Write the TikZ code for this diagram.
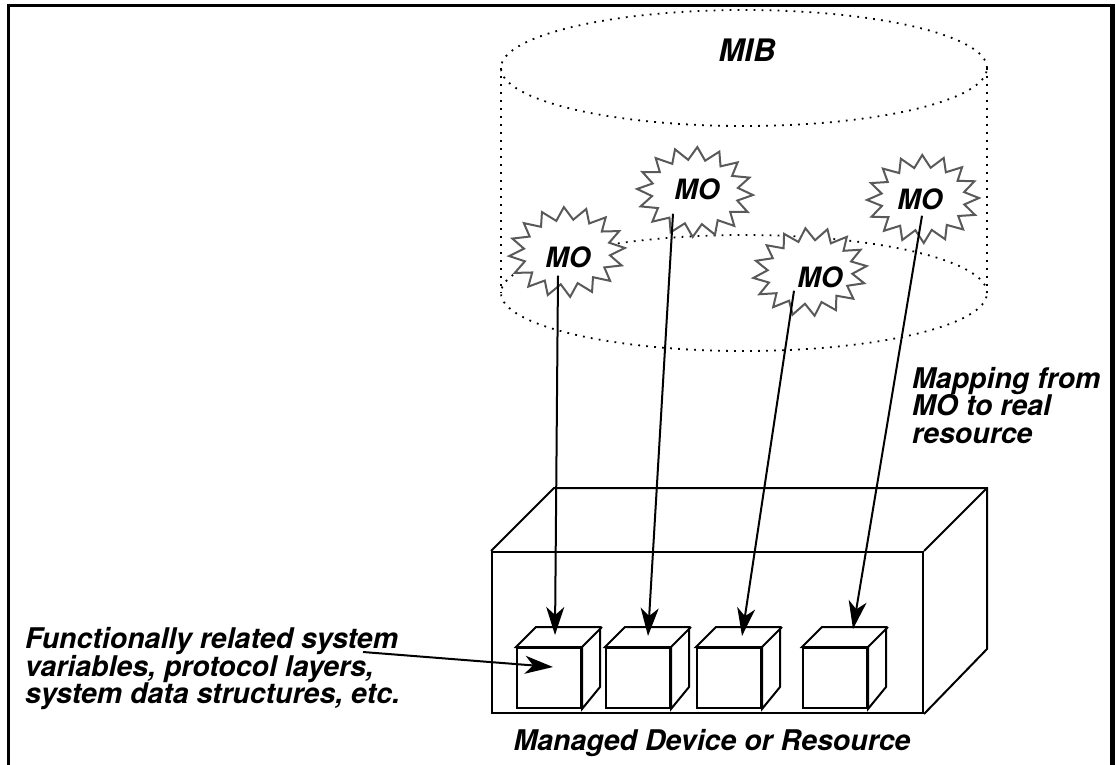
\documentclass[tikz,border=0pt]{standalone}
\usepackage{fontspec}
\setmainfont{TeX Gyre Heros}
\usetikzlibrary{arrows.meta}

% draws a sixteen-point starburst of outer radii #3 x #4 round the coordinate #2
\newcommand\burst[4][0]{%
  \draw[starline, shift={(#2)}, rotate=#1]
    plot[samples at={0,...,31}, variable=\k]
      ({(mod(\k,2)==1 ? 0.75 : 1)*#3*cos(\k*11.25)},
       {(mod(\k,2)==1 ? 0.72 : 1)*#4*sin(\k*11.25)}) -- cycle;}

\begin{document}
\begin{tikzpicture}[x=1pt, y=-1pt,
  txt/.style={font=\fontsize{28.5}{27.5}\selectfont\bfseries\itshape, inner sep=0pt},
  motext/.style={font=\fontsize{28}{28}\selectfont\bfseries\itshape, inner sep=0pt},
  dotline/.style={line width=1.8pt, dash pattern=on 1.8pt off 6.2pt},
  starline/.style={draw=black!65, fill=white, line width=2pt, line join=miter},
  boxline/.style={line width=2pt, line join=miter},
  cube/.style={draw, fill=white, line width=2pt, minimum width=64pt, minimum height=60pt, inner sep=0pt},
  maparrow/.style={line width=2pt, -{Stealth[length=28pt, width=18pt, inset=8pt]}}]

\useasboundingbox[fill=white] (0,0) rectangle (1116,765);

% outer frame, open at the bottom
\draw[line width=3pt] (8,770) -- (8,6) -- (1113,6);
\draw[line width=4.5pt] (1112.5,4.5) -- (1112.5,770);

% the MIB cylinder
\draw[dotline] (744,68) ellipse [x radius=243pt, y radius=58pt];
\draw[dotline] (744,293) ellipse [x radius=243pt, y radius=58pt];
\draw[dotline] (501,68) -- (501,293);
\draw[dotline] (987,68) -- (987,293);
\node[motext, font=\fontsize{31}{31}\selectfont\bfseries\itshape] (mib) at (747,50) {MIB};

% managed objects
\coordinate (s1) at (567,252);
\coordinate (s2) at (695,192);
\coordinate (s3) at (810,272);
\coordinate (s4) at (923,199);
\burst[4]{s1}{58}{45}
\burst[-3]{s2}{58}{45}
\burst[6]{s3}{57}{44}
\burst[1]{s4}{56}{44}
\node[motext] (mo1) at (568,257) {MO};
\node[motext] (mo2) at (697,189) {MO};
\node[motext] (mo3) at (820,277) {MO};
\node[motext] (mo4) at (920,199) {MO};

% the managed device
\node[draw, boxline, minimum width=431pt, minimum height=161pt, inner sep=0pt] (dev) at (707.5,632.5) {};
\draw[boxline] (dev.north west) -- ++(63,-63) -- ([shift={(63,-63)}]dev.north east) -- ++(0,161) -- (dev.south east);
\draw[boxline] (dev.north east) -- ++(63,-63);
\node[txt, anchor=base] (devlabel) at (712,750) {Managed Device or Resource};

% real resources inside the device
\foreach \n/\x in {1/549, 2/638, 3/729, 4/835} {
  \node[cube] (c\n) at (\x,678) {};
  \draw[boxline, fill=white] (c\n.north west) -- ++(20,-20) -- ++(64,0) -- ++(0,60) -- (c\n.south east)
     -- (c\n.north east) -- cycle;
  \draw[boxline] (c\n.north east) -- ++(20,-20);
}

% mappings from managed objects to resources
\draw[maparrow] ([xshift=-10pt, yshift=-8pt]mo1.south) -- ([xshift=6pt, yshift=12pt]c1.north);
\draw[maparrow] ([xshift=-24pt, yshift=-14pt]mo2.south) -- ([xshift=10pt, yshift=11pt]c2.north);
\draw[maparrow] ([xshift=-26pt, yshift=-3pt]mo3.south) -- ([xshift=13pt, yshift=11pt]c3.north);
\draw[maparrow] ([xshift=2pt, yshift=-6pt]mo4.south) -- ([xshift=18pt, yshift=18pt]c4.north);

% annotations
\node[txt, align=left, anchor=north west] (maplabel) at (912,367)
  {Mapping from\\MO to real\\resource};
\node[txt, align=left, anchor=north west] (reslabel) at (25,627.5)
  {Functionally related system\\variables, protocol layers,\\system data structures, etc.};
\coordinate (resfoot) at (363,652);
\draw[maparrow] (resfoot) -- ([xshift=4pt, yshift=11pt]c1.center);

\end{tikzpicture}
\end{document}
